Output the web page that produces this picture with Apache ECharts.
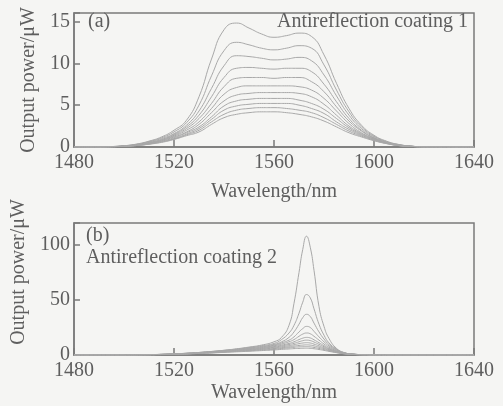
<!DOCTYPE html>
<html>
<head>
<meta charset="utf-8">
<script src="https://cdn.jsdelivr.net/npm/echarts@6/dist/echarts.min.js"></script>
<style>
html, body { margin: 0; padding: 0; background: #f5f5f3; }
#chart { width: 503px; height: 406px; }
</style>
</head>
<body>
<div id="chart"></div>
<script>
// 波长 (nm)
var wavelengthsA = [1480, 1490, 1495, 1500, 1505, 1510, 1515, 1520, 1525, 1530, 1535, 1540, 1545, 1550, 1555,
	1560, 1565, 1570, 1575, 1580, 1585, 1590, 1595, 1600, 1605, 1610, 1615, 1620, 1640];
var wavelengthsB = [1480, 1500, 1505, 1510, 1515, 1520, 1525, 1530, 1535, 1540, 1545, 1550, 1555, 1560, 1563,
	1566, 1568, 1570, 1571.5, 1573, 1574.5, 1576, 1578, 1580, 1582, 1585, 1588, 1592, 1596, 1600, 1605, 1640];

// (a) Antireflection coating 1, output power in uW
var spectraA = [
	[0, 0, 0.05, 0.15, 0.35, 0.7, 1.2, 2.0, 3.2, 6.0, 10.5, 14.0, 14.8, 14.2, 13.5, 13.1, 13.3, 13.6, 13.2, 11.0, 7.6, 4.6, 2.6, 1.4, 0.7, 0.3, 0.1, 0.02, 0],
	[0, 0, 0.05, 0.14, 0.32, 0.65, 1.1, 1.8, 2.9, 5.0, 8.5, 11.5, 12.5, 12.2, 11.8, 11.6, 11.8, 12.1, 11.8, 9.8, 6.8, 4.2, 2.4, 1.3, 0.65, 0.28, 0.1, 0.02, 0],
	[0, 0, 0.04, 0.13, 0.3, 0.6, 1.0, 1.6, 2.6, 4.3, 7.0, 9.7, 10.9, 10.8, 10.6, 10.4, 10.5, 10.7, 10.3, 8.6, 6.1, 3.8, 2.2, 1.2, 0.6, 0.26, 0.09, 0.02, 0],
	[0, 0, 0.04, 0.12, 0.28, 0.55, 0.9, 1.5, 2.4, 3.8, 6.0, 8.3, 9.4, 9.5, 9.4, 9.3, 9.4, 9.4, 9.0, 7.5, 5.4, 3.4, 2.0, 1.1, 0.56, 0.24, 0.08, 0.02, 0],
	[0, 0, 0.04, 0.11, 0.26, 0.5, 0.85, 1.4, 2.2, 3.4, 5.2, 7.2, 8.2, 8.3, 8.3, 8.2, 8.3, 8.3, 7.8, 6.6, 4.8, 3.1, 1.9, 1.05, 0.53, 0.22, 0.08, 0.02, 0],
	[0, 0, 0.03, 0.1, 0.24, 0.46, 0.8, 1.3, 2.0, 3.0, 4.6, 6.3, 7.1, 7.3, 7.3, 7.3, 7.3, 7.2, 6.8, 5.8, 4.3, 2.8, 1.7, 1.0, 0.5, 0.21, 0.07, 0.02, 0],
	[0, 0, 0.03, 0.1, 0.22, 0.43, 0.75, 1.2, 1.8, 2.7, 4.1, 5.5, 6.2, 6.4, 6.5, 6.5, 6.5, 6.4, 6.0, 5.1, 3.8, 2.5, 1.6, 0.95, 0.48, 0.2, 0.07, 0.02, 0],
	[0, 0, 0.03, 0.09, 0.2, 0.4, 0.7, 1.1, 1.7, 2.4, 3.6, 4.9, 5.5, 5.7, 5.8, 5.8, 5.8, 5.6, 5.2, 4.5, 3.4, 2.3, 1.5, 0.9, 0.46, 0.19, 0.07, 0.02, 0],
	[0, 0, 0.03, 0.08, 0.19, 0.37, 0.65, 1.0, 1.55, 2.2, 3.3, 4.4, 4.9, 5.1, 5.2, 5.2, 5.2, 5.0, 4.6, 4.0, 3.0, 2.1, 1.4, 0.85, 0.44, 0.18, 0.06, 0.02, 0],
	[0, 0, 0.02, 0.08, 0.18, 0.35, 0.6, 0.95, 1.45, 2.0, 3.0, 3.9, 4.4, 4.6, 4.7, 4.7, 4.6, 4.4, 4.1, 3.5, 2.7, 1.9, 1.3, 0.8, 0.42, 0.17, 0.06, 0.02, 0],
	[0, 0, 0.02, 0.07, 0.17, 0.33, 0.55, 0.9, 1.35, 1.8, 2.7, 3.5, 3.9, 4.1, 4.2, 4.2, 4.1, 3.9, 3.6, 3.1, 2.4, 1.7, 1.2, 0.75, 0.4, 0.16, 0.06, 0.02, 0]
];

// (b) Antireflection coating 2
var spectraB = [
	[0, 0, 0.1, 0.3, 0.6, 1.0, 1.6, 2.3, 3.2, 4.3, 5.6, 7.2, 9.0, 12, 16, 27, 47, 75, 96, 108, 98, 77, 44, 26, 15, 6, 2.2, 0.7, 0.3, 0.1, 0, 0],
	[0, 0, 0.1, 0.3, 0.6, 1.0, 1.6, 2.3, 3.2, 4.2, 5.4, 6.8, 8.4, 10.5, 14, 20, 27, 38, 48, 55, 52, 42, 28, 18, 11, 5.5, 2.2, 0.7, 0.3, 0.1, 0, 0],
	[0, 0, 0.1, 0.3, 0.6, 1.0, 1.5, 2.2, 3.0, 4.0, 5.1, 6.4, 7.8, 9.6, 12, 16, 21, 28, 34, 37, 35, 29, 21, 14.5, 9.5, 5, 2, 0.7, 0.3, 0.1, 0, 0],
	[0, 0, 0.1, 0.3, 0.5, 0.9, 1.4, 2.1, 2.9, 3.8, 4.8, 6.0, 7.3, 8.9, 11, 13.5, 16.5, 21, 24, 26, 25, 21.5, 16.5, 12, 8.2, 4.4, 1.9, 0.7, 0.3, 0.1, 0, 0],
	[0, 0, 0.1, 0.3, 0.5, 0.9, 1.4, 2.0, 2.7, 3.6, 4.6, 5.6, 6.8, 8.3, 10, 12, 14, 17, 19, 20, 19.3, 17, 13.5, 10, 7, 3.9, 1.8, 0.6, 0.3, 0.1, 0, 0],
	[0, 0, 0.1, 0.2, 0.5, 0.8, 1.3, 1.9, 2.6, 3.4, 4.3, 5.2, 6.3, 7.6, 9, 10.5, 12, 14, 15.3, 16, 15.5, 13.8, 11.2, 8.5, 6, 3.5, 1.6, 0.6, 0.2, 0.1, 0, 0],
	[0, 0, 0.1, 0.2, 0.5, 0.8, 1.2, 1.8, 2.4, 3.2, 4.0, 4.9, 5.9, 7.0, 8.2, 9.5, 10.6, 12, 13, 13.5, 13.1, 11.8, 9.7, 7.5, 5.4, 3.2, 1.5, 0.5, 0.2, 0.1, 0, 0],
	[0, 0, 0.1, 0.2, 0.4, 0.7, 1.1, 1.7, 2.3, 3.0, 3.7, 4.5, 5.4, 6.4, 7.4, 8.4, 9.3, 10.3, 10.9, 11.2, 10.9, 9.9, 8.3, 6.5, 4.8, 2.9, 1.4, 0.5, 0.2, 0.1, 0, 0],
	[0, 0, 0.1, 0.2, 0.4, 0.7, 1.1, 1.6, 2.1, 2.8, 3.4, 4.2, 5.0, 5.8, 6.6, 7.4, 8.1, 8.7, 9.0, 9.2, 9.0, 8.3, 7.1, 5.7, 4.3, 2.6, 1.3, 0.5, 0.2, 0.1, 0, 0],
	[0, 0, 0.1, 0.2, 0.4, 0.6, 1.0, 1.5, 2.0, 2.6, 3.2, 3.8, 4.5, 5.2, 5.9, 6.5, 7.0, 7.4, 7.5, 7.6, 7.4, 6.9, 6.0, 4.9, 3.8, 2.3, 1.2, 0.4, 0.2, 0.1, 0, 0],
	[0, 0, 0.1, 0.2, 0.3, 0.6, 0.9, 1.4, 1.8, 2.4, 2.9, 3.4, 4.0, 4.6, 5.1, 5.5, 5.8, 6.0, 6.1, 6.2, 6.0, 5.7, 5.0, 4.2, 3.3, 2.1, 1.1, 0.4, 0.2, 0.1, 0, 0]
];

var xTicks = [1480, 1640, 40];   // min, max, interval

var textColor = '#5e5e5e';
var lineColor = '#a8a8a8';
var frameColor = '#7a7a7a';
var fontFamily = '"Liberation Serif", "DejaVu Serif", serif';

function makeXAxis(gridIndex, gap) {
	return {
		type: 'value',
		gridIndex: gridIndex,
		min: xTicks[0],
		max: xTicks[1],
		interval: xTicks[2],
		name: 'Wavelength/nm',
		nameLocation: 'middle',
		nameGap: gap,
		nameTextStyle: { color: textColor, fontSize: 20, fontFamily: fontFamily },
		axisLine: { lineStyle: { color: frameColor, width: 1.5 } },
		axisTick: { inside: true, length: 7, lineStyle: { color: frameColor, width: 1.5 } },
		axisLabel: {
			color: textColor, fontSize: 20, fontFamily: fontFamily, margin: 6,
			formatter: function (v) { return String(v); }
		},
		splitLine: { show: false }
	};
}

function makeYAxis(gridIndex, max, step, pad) {
	return {
		type: 'value',
		gridIndex: gridIndex,
		min: 0,
		max: max,
		interval: step,
		name: 'Output power/μW',
		nameLocation: 'middle',
		nameGap: 25,
		nameTextStyle: { color: textColor, fontSize: 20, fontFamily: fontFamily, padding: pad },
		axisLine: { show: true, lineStyle: { color: frameColor, width: 1.5 } },
		axisTick: { inside: true, length: 6, lineStyle: { color: frameColor, width: 1.5 } },
		axisLabel: {
			color: textColor, fontSize: 20, fontFamily: fontFamily, margin: 4,
			formatter: function (v) { return v % step === 0 ? String(v) : ''; }
		},
		splitLine: { show: false }
	};
}

function makeSeries(curves, xs, idx) {
	return curves.map(function (c, k) {
		return {
			name: (idx === 0 ? 'a' : 'b') + k,
			type: 'line',
			xAxisIndex: idx,
			yAxisIndex: idx,
			smooth: true,
			symbol: 'none',
			silent: true,
			lineStyle: { color: lineColor, width: 1 },
			data: xs.map(function (w, i) { return [w, c[i]]; })
		};
	});
}

var myChart = echarts.init(document.getElementById('chart'));

var option = {
	backgroundColor: '#f5f5f3',
	animation: false,
	grid: [
		{ left: 74, right: 29, top: 13, height: 134, show: true, borderColor: frameColor, borderWidth: 1.5, backgroundColor: 'transparent' },
		{ left: 74, right: 29, top: 223, height: 132, show: true, borderColor: frameColor, borderWidth: 1.5, backgroundColor: 'transparent' }
	],
	xAxis: [makeXAxis(0, 35), makeXAxis(1, 28)],
	yAxis: [makeYAxis(0, 16, 5, [0, 0, 0, 0]), makeYAxis(1, 120, 50, [0, 0, 0, 34])],
	graphic: [
		{ type: 'text', left: 88, top: 12, style: { text: '(a)', fill: textColor, font: '20px ' + fontFamily } },
		{ type: 'text', right: 35, top: 12, style: { text: 'Antireflection coating 1', fill: textColor, font: '20px ' + fontFamily } },
		{ type: 'text', left: 86, top: 226, style: { text: '(b)', fill: textColor, font: '20px ' + fontFamily } },
		{ type: 'text', left: 86, top: 248, style: { text: 'Antireflection coating 2', fill: textColor, font: '20px ' + fontFamily } }
	],
	series: makeSeries(spectraA, wavelengthsA, 0).concat(makeSeries(spectraB, wavelengthsB, 1))
};

myChart.clear();
myChart.setOption(option);
</script>
</body>
</html>
